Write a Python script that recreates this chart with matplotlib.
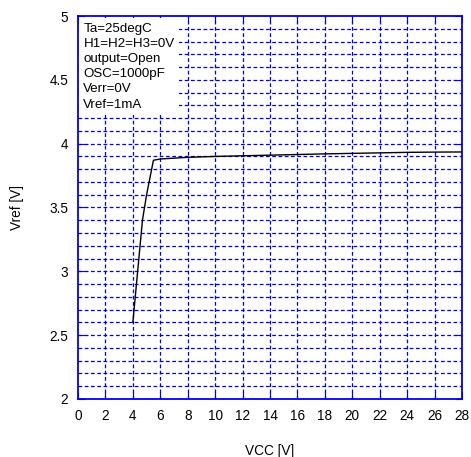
import matplotlib
matplotlib.use("Agg")
import matplotlib.pyplot as plt
import numpy as np

plt.rcParams['font.family'] = ['Liberation Sans', 'DejaVu Sans']

vcc = [4.0, 4.7, 5.0, 5.5, 6, 8, 10, 12, 14, 16, 18, 20, 22, 24, 26, 28]
vref = [2.6, 3.4, 3.6, 3.87, 3.88, 3.893, 3.9, 3.905, 3.91, 3.915, 3.92, 3.924, 3.928, 3.932, 3.934, 3.935]

cond_lines = ["Ta=25degC", "H1=H2=H3=0V", "output=Open", "OSC=1000pF", "Verr=0V", "Vref=1mA"]

xticks = np.arange(0, 29, 2)
yticks = [2, 2.5, 3, 3.5, 4, 4.5, 5]

blue = '#0000ee'

fig = plt.figure(figsize=(4.71, 4.57), dpi=100)
ax = fig.add_axes([78/471, 1 - 399/457, 384/471, 383/457])

ax.set_xlim(0, 28)
ax.set_ylim(2, 5)

# grid lines
for x in xticks[1:-1]:
    ax.axvline(x, color=blue, lw=0.9, ls=(0, (3, 2)), zorder=1)
for y in np.arange(2.1, 5.0, 0.1):
    ax.axhline(y, color=blue, lw=0.9, ls=(0, (3, 2)), zorder=1)

ax.plot(vcc, vref, color='black', lw=1.0, zorder=3)

ax.set_xticks(xticks)
ax.set_yticks(yticks)
ax.set_yticklabels(['2', '2.5', '3', '3.5', '4', '4.5', '5'])
ax.tick_params(direction='in', length=5, color=blue, labelsize=9.8, top=True, right=True, pad=7)
for s in ax.spines.values():
    s.set_color(blue)
    s.set_linewidth(1.3)

ax.set_xlabel("VCC [V]", fontsize=9.8, labelpad=15)
ax.set_ylabel("Vref [V]", fontsize=9.8, labelpad=18)

ax.text(0.014, 0.983, "\n".join(cond_lines), transform=ax.transAxes, va='top', ha='left',
        fontsize=9.6, linespacing=1.36, zorder=4,
        bbox=dict(facecolor='white', edgecolor='none', pad=3))

fig.savefig("out.png", dpi=100)
